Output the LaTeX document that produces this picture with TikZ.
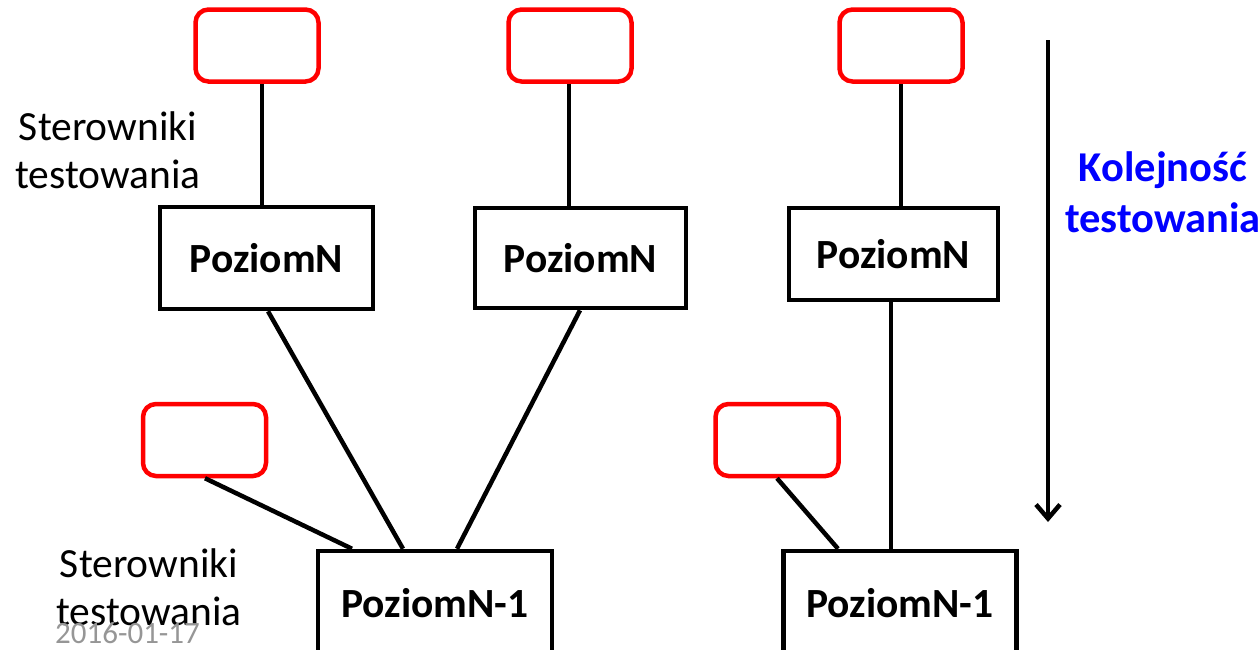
\documentclass[tikz,border=0pt]{standalone}
\usepackage{fontspec}
\setmainfont{Carlito}
\usetikzlibrary{arrows.meta}
\definecolor{stubred}{RGB}{255,0,0}
\definecolor{dategray}{RGB}{150,150,150}
\definecolor{orderblue}{RGB}{0,0,255}
\tikzset{
  big/.style={font=\fontsize{41.5}{48}\selectfont},
  stub/.style={draw=stubred, line width=4.5pt, rounded corners=13pt,
    minimum width=123pt, minimum height=72pt, inner sep=0pt},
  levelbox/.style={draw=black, line width=4.5pt, inner sep=0pt,
    font=\fontsize{41.5}{48}\selectfont\bfseries},
  link/.style={draw=black, line width=4.5pt},
}
\begin{document}
\begin{tikzpicture}[x=1pt,y=-1pt]
  \useasboundingbox (0,0) rectangle (1259,649);
  \clip (0,0) rectangle (1259,649);

  % test drivers (empty red boxes)
  \node[stub] (d1) at (257,45.5) {};
  \node[stub] (d2) at (570,45.5) {};
  \node[stub] (d3) at (901,45.5) {};
  \node[stub] (d4) at (204.5,440) {};
  \node[stub] (d5) at (777,440) {};

  % upper level modules
  \node[levelbox, minimum width=213pt, minimum height=102pt] (n1) at (266.5,258) {PoziomN};
  \node[levelbox, minimum width=211pt, minimum height=100pt] (n2) at (580.5,258) {PoziomN};
  \node[levelbox, minimum width=209pt, minimum height=92pt]  (n3) at (893.5,254) {PoziomN};

  % lower level modules
  \node[levelbox, minimum width=234pt, minimum height=104pt] (m1) at (435,603) {PoziomN-1};
  \node[levelbox, minimum width=233pt, minimum height=104pt] (m2) at (900,603) {PoziomN-1};

  % connections
  \draw[link] (d1.south -| 262,0) -- (n1.north -| 262,0);
  \draw[link] (d2.south -| 569,0) -- (n2.north -| 569,0);
  \draw[link] (d3.south -| 901,0) -- (n3.north -| 901,0);
  \draw[link] (n1.south -| 268,0) -- (m1.north -| 403,0);
  \draw[link] (n2.south -| 580,0) -- (m1.north -| 457,0);
  \draw[link] (d4.south -| 205,0) -- (m1.north -| 352,0);
  \draw[link] (n3.south -| 891,0) -- (m2.north -| 891,0);
  \draw[link] (d5.south -| 777,0) -- (m2.north -| 838,0);

  % labels
  \node[big, align=center, inner sep=0pt] (lab1) at (108,150) {Sterowniki\\testowania};
  \node[big, align=center, inner sep=0pt] (lab2) at (149,587) {Sterowniki\\testowania};
  \node[big, align=center, inner sep=0pt, text=orderblue, font=\fontsize{42.5}{51}\selectfont\bfseries]
    (order) at (1163,192) {Kolejność\\testowania};

  % testing order arrow
  \coordinate (arrtop) at (1048,40);
  \coordinate (arrbot) at (1048,522);
  \draw[line width=4.5pt, -{Straight Barb[length=14pt, width=24pt, line width=4.5pt]}] (arrtop) -- (arrbot);

  % date footer
  \node[anchor=base west, inner sep=0pt, text=dategray, font=\fontsize{31}{36}\selectfont]
    (date) at (55,643) {2016-01-17};
\end{tikzpicture}
\end{document}
